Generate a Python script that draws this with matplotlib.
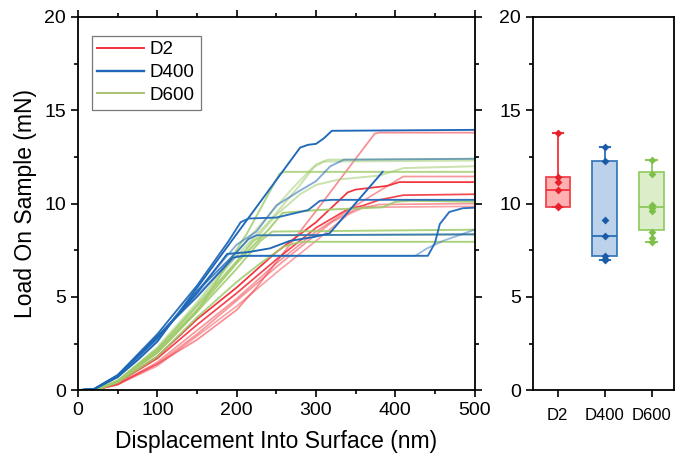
import matplotlib
matplotlib.use("Agg")
import matplotlib.pyplot as plt
from matplotlib.ticker import MultipleLocator

plt.rcParams['font.family'] = ['Liberation Sans', 'DejaVu Sans']

# ---------------- data: loading curves (displacement nm, load mN) ----------------
# D2 (red)
R1_x = [0, 25, 50, 100, 150, 200, 225, 300, 374, 380, 500]
R1_y = [0, 0.05, 0.35, 1.4, 2.7, 4.3, 5.5, 9.6, 13.75, 13.8, 13.8]
R2_x = [0, 25, 50, 100, 150, 200, 250, 300, 340, 350, 390, 405, 500]
R2_y = [0, 0.05, 0.4, 1.8, 3.8, 5.5, 7.4, 9.0, 10.6, 10.75, 10.95, 11.15, 11.15]
R3_x = [0, 25, 50, 100, 150, 200, 250, 300, 350, 400, 410, 500]
R3_y = [0, 0.05, 0.3, 1.5, 3.2, 4.9, 6.8, 8.5, 9.9, 11.2, 11.45, 11.45]
R4_x = [0, 25, 50, 100, 150, 200, 250, 300, 340, 360, 380, 410, 500]
R4_y = [0, 0.05, 0.4, 1.7, 3.5, 5.2, 7.0, 8.7, 9.7, 9.9, 10.2, 10.45, 10.5]
R5_x = [0, 25, 50, 100, 150, 200, 250, 300, 340, 360, 500]
R5_y = [0, 0.05, 0.3, 1.3, 2.9, 4.5, 6.3, 8.0, 9.4, 9.8, 9.85]
R6_x = [0, 25, 50, 100, 150, 200, 250, 290, 320, 350, 380, 500]
R6_y = [0, 0.05, 0.3, 1.4, 3.0, 4.8, 6.6, 8.0, 9.0, 9.7, 9.95, 10.0]

# D400 (blue)
B1_x = [0, 20, 50, 75, 100, 166, 280, 290, 300, 310, 320, 500]
B1_y = [0, 0.05, 0.7, 1.6, 2.6, 6.4, 13.0, 13.15, 13.2, 13.5, 13.9, 13.95]
B2_x = [0, 20, 50, 100, 150, 190, 205, 215, 250, 290, 305, 320, 500]
B2_y = [0, 0.05, 0.8, 3.0, 5.6, 8.0, 9.0, 9.2, 9.25, 9.65, 10.15, 10.2, 10.2]
B3_x = [0, 20, 50, 100, 150, 200, 225, 250, 280, 300, 318, 335, 500]
B3_y = [0, 0.05, 0.7, 2.7, 5.3, 7.8, 8.5, 9.9, 10.7, 11.2, 12.0, 12.35, 12.4]
B4_x = [0, 20, 50, 100, 150, 188, 215, 242, 267, 296, 317, 384]
B4_y = [0, 0.05, 0.8, 2.8, 5.2, 7.3, 7.4, 7.6, 8.0, 8.2, 8.4, 11.7]
B5_x = [0, 20, 50, 100, 150, 195, 210, 441, 450, 456, 468, 485, 500]
B5_y = [0, 0.05, 0.8, 2.9, 5.0, 7.1, 7.2, 7.2, 7.9, 8.9, 9.55, 9.75, 9.78]
B6_x = [0, 20, 50, 100, 150, 200, 425, 440, 460, 500]
B6_y = [0, 0.05, 0.7, 2.8, 5.1, 7.2, 7.2, 7.6, 8.0, 8.6]
B7_x = [0, 20, 50, 100, 150, 200, 215, 225, 500]
B7_y = [0, 0.05, 0.75, 2.8, 5.3, 7.4, 8.1, 8.3, 8.35]

# D600 (green)
G1_x = [0, 25, 50, 100, 150, 213, 254, 260, 500]
G1_y = [0, 0.05, 0.5, 2.0, 4.2, 8.4, 11.6, 11.7, 11.7]
G2_x = [0, 25, 50, 100, 150, 200, 240, 260, 280, 300, 315, 500]
G2_y = [0, 0.05, 0.5, 2.2, 4.6, 7.2, 9.0, 10.0, 11.0, 12.1, 12.35, 12.4]
G3_x = [0, 25, 50, 100, 150, 200, 250, 280, 300, 330, 380, 410, 500]
G3_y = [0, 0.05, 0.5, 2.2, 4.5, 6.9, 9.4, 10.5, 11.0, 11.3, 11.5, 11.9, 12.0]
G4_x = [0, 25, 50, 100, 150, 200, 240, 258, 300, 384, 400, 420, 500]
G4_y = [0, 0.05, 0.5, 2.1, 4.3, 6.8, 8.6, 9.5, 9.65, 9.8, 10.1, 10.15, 10.1]
G5_x = [0, 25, 50, 100, 150, 200, 230, 245, 500]
G5_y = [0, 0.05, 0.45, 2.0, 4.2, 6.5, 8.0, 8.5, 8.6]
G6_x = [0, 25, 50, 100, 150, 200, 220, 235, 500]
G6_y = [0, 0.05, 0.5, 2.2, 4.5, 6.9, 8.0, 8.3, 8.35]
G7_x = [0, 25, 50, 100, 150, 200, 230, 260, 280, 500]
G7_y = [0, 0.05, 0.4, 1.8, 3.9, 5.8, 6.8, 7.7, 7.95, 7.95]
G8_x = [0, 25, 50, 100, 150, 200, 245, 270, 295, 310, 500]
G8_y = [0, 0.05, 0.5, 2.3, 4.7, 7.4, 9.6, 10.8, 11.9, 12.25, 12.3]

# ---------------- data: box plot (max load, mN) ----------------
box_labels = ["D2", "D400", "D600"]
D2_points = [13.76, 11.44, 11.13, 10.72, 9.85, 9.79]
D400_points = [13.05, 12.3, 9.12, 8.26, 7.2, 7.05, 7.0]
D600_points = [12.33, 11.6, 9.9, 9.75, 9.6, 8.5, 8.15, 7.95]
box_q1 = [9.83, 7.18, 8.58]
box_med = [10.72, 8.26, 9.79]
box_q3 = [11.44, 12.3, 11.7]
box_whislo = [9.79, 7.0, 7.95]
box_whishi = [13.76, 13.05, 12.33]

# ---------------- styles ----------------
RED = "#f2323c"
BLUE = "#1f68b8"
GREEN = "#9fcb6a"

fig = plt.figure(figsize=(6.84, 4.59), dpi=100)
ax = fig.add_axes([0.114, 0.150, 0.580, 0.813])
ax2 = fig.add_axes([0.779, 0.150, 0.206, 0.813])

red_curves = [(R1_x, R1_y, 0.55), (R2_x, R2_y, 1.0), (R3_x, R3_y, 0.5),
              (R4_x, R4_y, 0.9), (R5_x, R5_y, 0.45), (R6_x, R6_y, 0.5)]
blue_curves = [(B1_x, B1_y, 1.0), (B2_x, B2_y, 0.95), (B3_x, B3_y, 0.55),
               (B4_x, B4_y, 1.0), (B5_x, B5_y, 0.95), (B6_x, B6_y, 0.45),
               (B7_x, B7_y, 0.8)]
green_curves = [(G1_x, G1_y, 0.8), (G2_x, G2_y, 0.55), (G3_x, G3_y, 0.55),
                (G4_x, G4_y, 0.9), (G5_x, G5_y, 0.85), (G6_x, G6_y, 0.7),
                (G7_x, G7_y, 0.85), (G8_x, G8_y, 0.5)]

for x, y, a in red_curves:
    ax.plot(x, y, color=RED, lw=1.25, alpha=a)
for x, y, a in green_curves:
    ax.plot(x, y, color=GREEN, lw=1.4, alpha=a)
for x, y, a in blue_curves:
    ax.plot(x, y, color=BLUE, lw=1.35, alpha=a)

# legend proxies
ax.plot([], [], color=RED, lw=1.4, label="D2")
ax.plot([], [], color=BLUE, lw=1.7, label="D400")
ax.plot([], [], color="#a8bf72", lw=1.4, label="D600")
handles, labels = ax.get_legend_handles_labels()
leg = ax.legend(handles[-3:], labels[-3:], loc="upper left", bbox_to_anchor=(0.035, 0.95),
                fontsize=13.5, handlelength=2.5, handletextpad=0.3, labelspacing=0.3,
                fancybox=False, edgecolor="#555555", borderpad=0.3, borderaxespad=0)
leg.get_frame().set_linewidth(0.9)

ax.set_xlim(0, 500)
ax.set_ylim(0, 20)
ax.xaxis.set_major_locator(MultipleLocator(100))
ax.xaxis.set_minor_locator(MultipleLocator(50))
ax.yaxis.set_major_locator(MultipleLocator(5))
ax.yaxis.set_minor_locator(MultipleLocator(2.5))
ax.tick_params(which="both", direction="out", width=1.2, labelsize=14,
               top=True, right=True)
ax.tick_params(which="major", length=5)
ax.tick_params(which="minor", length=3)
for s in ax.spines.values():
    s.set_linewidth(1.3)
ax.set_xlabel("Displacement Into Surface (nm)", fontsize=16.5, labelpad=8)
ax.set_ylabel("Load On Sample (mN)", fontsize=16.5, labelpad=5)

# ---------------- box plot ----------------
stats = []
for i, lab in enumerate(box_labels):
    stats.append(dict(label=lab, q1=box_q1[i], med=box_med[i], q3=box_q3[i],
                      whislo=box_whislo[i], whishi=box_whishi[i], fliers=[]))
edge_cols = [RED, "#2a6fb8", "#8cc85a"]
fill_cols = ["#ffa8a8", "#b5cde9", "#d7edc4"]
point_cols = ["#e8202c", "#1a5aa6", "#7cc04a"]
bp = ax2.bxp(stats, positions=[1, 2, 3], widths=0.52, patch_artist=True,
             showfliers=False, capwidths=0.22)
for i in range(3):
    bp["boxes"][i].set(facecolor=fill_cols[i], edgecolor=edge_cols[i], linewidth=1.3, alpha=0.9)
    bp["medians"][i].set(color=edge_cols[i], linewidth=1.3)
    for w in bp["whiskers"][2 * i:2 * i + 2]:
        w.set(color=edge_cols[i], linewidth=1.3)
    for c in bp["caps"][2 * i:2 * i + 2]:
        c.set(color=edge_cols[i], linewidth=1.5)

for i, pts in enumerate([D2_points, D400_points, D600_points]):
    ax2.scatter([i + 1] * len(pts), pts, s=16, color=point_cols[i], zorder=5, marker="D",
                linewidths=0)

ax2.set_xlim(0.47, 3.47)
ax2.set_ylim(0, 20)
ax2.set_xticks([1, 2, 3])
ax2.set_xticklabels(box_labels)
ax2.yaxis.set_major_locator(MultipleLocator(5))
ax2.yaxis.set_minor_locator(MultipleLocator(2.5))
ax2.tick_params(axis="y", which="both", direction="out", width=1.2, labelsize=14)
ax2.tick_params(axis="y", which="major", length=5)
ax2.tick_params(axis="y", which="minor", length=3)
ax2.tick_params(axis="x", direction="out", width=1.2, length=5, labelsize=12, pad=8)
for s in ax2.spines.values():
    s.set_linewidth(1.3)

fig.savefig("out.png", dpi=100)
